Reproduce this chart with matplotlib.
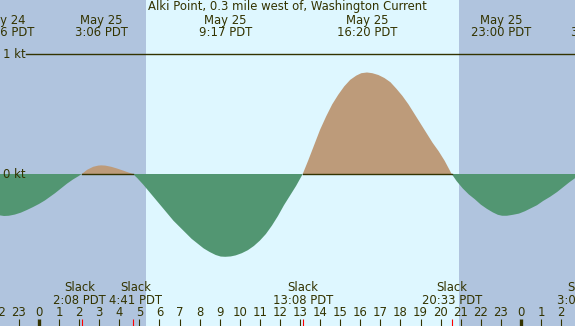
import numpy as np
import matplotlib
matplotlib.use("Agg")
import matplotlib.pyplot as plt
from matplotlib.transforms import blended_transform_factory

# hours after May 25 00:00 PDT, current speed in knots
hours = [-1.94, -1.74, -1.5, -1.2, -0.9, -0.6, -0.3, 0.0, 0.3, 0.55, 0.8, 1.1, 1.4, 1.7, 1.95, 2.133,
         2.4, 2.7, 2.95, 3.1, 3.3, 3.6, 3.9, 4.2, 4.45, 4.683,
         4.9, 5.2, 5.5, 5.8, 6.1, 6.4, 6.7, 7.0, 7.3, 7.6, 7.9, 8.2, 8.5, 8.8, 9.05, 9.28,
         9.55, 9.8, 10.1, 10.4, 10.7, 11.0, 11.3, 11.6, 11.9, 12.2, 12.5, 12.8, 13.133,
         13.4, 13.7, 14.0, 14.3, 14.6, 14.9, 15.2, 15.5, 15.8, 16.05, 16.333,
         16.6, 16.9, 17.2, 17.5, 17.8, 18.1, 18.4, 18.7, 19.0, 19.3, 19.6, 19.9, 20.2, 20.55,
         20.8, 21.1, 21.4, 21.7, 22.0, 22.3, 22.6, 22.85, 23.06, 23.3, 23.6, 23.9, 24.2,
         24.5, 24.8, 25.1, 25.45, 25.8, 26.1, 26.4, 26.69, 27.1]
speed = [-0.345, -0.35, -0.348, -0.338, -0.322, -0.30, -0.276, -0.25, -0.22, -0.19, -0.16, -0.12, -0.08, -0.045, -0.02, 0.0,
         0.035, 0.06, 0.07, 0.072, 0.07, 0.06, 0.045, 0.028, 0.013, 0.0,
         -0.035, -0.09, -0.15, -0.21, -0.27, -0.33, -0.39, -0.44, -0.49, -0.54, -0.58, -0.62, -0.65, -0.675, -0.688, -0.69,
         -0.687, -0.678, -0.66, -0.635, -0.60, -0.555, -0.50, -0.43, -0.35, -0.26, -0.18, -0.10, 0.0,
         0.11, 0.24, 0.37, 0.48, 0.58, 0.66, 0.73, 0.785, 0.82, 0.84, 0.846,
         0.84, 0.825, 0.80, 0.765, 0.71, 0.65, 0.58, 0.50, 0.42, 0.34, 0.26, 0.19, 0.11, 0.0,
         -0.06, -0.12, -0.17, -0.21, -0.255, -0.29, -0.32, -0.34, -0.348, -0.348, -0.34, -0.33, -0.31,
         -0.285, -0.26, -0.225, -0.19, -0.15, -0.11, -0.07, -0.035, 0.0]

# max flood / max ebb events
event_hours = [-1.73, 3.1, 9.283, 16.333, 23.0, 27.8]
event_dates = ["May 24", "May 25", "May 25", "May 25", "May 25", "May 26"]
event_times = ["22:16 PDT", "3:06 PDT", "9:17 PDT", "16:20 PDT", "23:00 PDT", "3:48 PDT"]

# slack water
slack_hours = [2.133, 4.683, 13.133, 20.55, 27.1]
slack_times = ["2:08 PDT", "4:41 PDT", "13:08 PDT", "20:33 PDT", "3:06 PDT"]

sunrise = 5.33
sunset = 20.92

title = "Alki Point, 0.3 mile west of, Washington Current"

night = "#b0c4de"
day = "#def7ff"
flood = "#bd9b7a"
ebb = "#529672"
ink = "#333300"
W, H = 575, 326

fig = plt.figure(figsize=(W / 100, H / 100), dpi=100)
ax = fig.add_axes([0, 0, 1, 1])
ax.set_xlim(-1.94, 26.69)
ax.set_ylim((174 - H) / 120, 174 / 120)
ax.axis("off")
xt = blended_transform_factory(ax.transData, ax.transAxes)
yt = blended_transform_factory(ax.transAxes, ax.transData)

def fy(py):
    return 1 - py / H

h = np.array(hours)
v = np.array(speed)

ax.axvspan(-5, sunrise, color=night, lw=0, zorder=0)
ax.axvspan(sunrise, sunset, color=day, lw=0, zorder=0)
ax.axvspan(sunset, 30, color=night, lw=0, zorder=0)

ax.fill_between(h, v, 0, where=v >= 0, interpolate=True, color=flood, lw=0, zorder=1)
ax.fill_between(h, v, 0, where=v <= 0, interpolate=True, color=ebb, lw=0, zorder=1)
ax.plot(h, np.where(v >= 0, 0, np.nan), color=ink, lw=1, zorder=2)

ax.axhline(1, xmin=26 / W, color=ink, lw=1, zorder=2)
ax.text(3 / W, (174 - 58) / 120, "1 kt", transform=yt, va="baseline", ha="left",
        color=ink, fontsize=8.4)
ax.text(3 / W, (174 - 178) / 120, "0 kt", transform=yt, va="baseline", ha="left",
        color=ink, fontsize=8.4)

ax.text(0.5, fy(10), title, transform=ax.transAxes, ha="center", va="baseline",
        color=ink, fontsize=8.4)
for eh, d, t in zip(event_hours, event_dates, event_times):
    ax.text(eh, fy(24), d, transform=xt, ha="center", va="baseline", color=ink, fontsize=8.4)
    ax.text(eh, fy(35.5), t, transform=xt, ha="center", va="baseline", color=ink, fontsize=8.4)

# hour ticks and labels
for hr in range(-2, 28):
    lw = 2.4 if hr % 24 == 0 else 0.8
    ax.vlines(hr, 0, fy(318.5), transform=xt, color=ink, lw=lw, zorder=3)
    ax.text(hr, fy(316), str(hr % 24), transform=xt, ha="center", va="baseline",
            color=ink, fontsize=8.4)

ax.vlines(slack_hours, 0, fy(318.5), transform=xt, color="red", lw=0.8, zorder=4)
s_words = []
s_times = []
for sh, t in zip(slack_hours, slack_times):
    s_words.append(ax.text(sh, fy(291), "Slack", transform=xt, ha="center",
                           va="baseline", color=ink, fontsize=8.4))
    s_times.append(ax.text(sh, fy(304), t, transform=xt, ha="center",
                           va="baseline", color=ink, fontsize=8.4))

# push overlapping slack labels apart
fig.canvas.draw()
px_per_hr = W / (ax.get_xlim()[1] - ax.get_xlim()[0])
for i in range(len(s_times) - 1):
    a = s_times[i].get_window_extent()
    b = s_times[i + 1].get_window_extent()
    if a.x1 + 3 > b.x0:
        d = (a.x1 + 3 - b.x0) / 2 / px_per_hr
        for txt in (s_words[i], s_times[i]):
            txt.set_x(txt.get_position()[0] - d)
        for txt in (s_words[i + 1], s_times[i + 1]):
            txt.set_x(txt.get_position()[0] + d)

fig.savefig("out.png", dpi=100)
